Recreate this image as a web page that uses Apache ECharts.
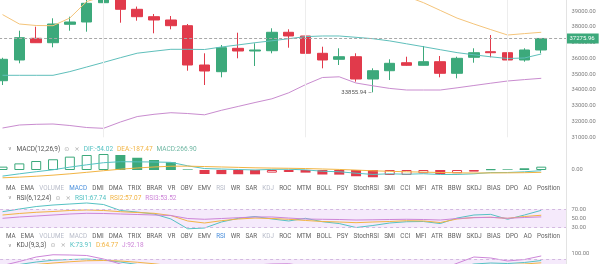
<!DOCTYPE html>
<html><head><meta charset="utf-8">
<script src="https://cdn.jsdelivr.net/npm/echarts@6/dist/echarts.min.js"></script>
<style>html,body{margin:0;padding:0;background:#fff}#c{width:600px;height:264px}</style>
</head><body><div id="c"></div>
<script>
// ---------- data ----------
const categories = ['03-01','03-02','03-03','03-04','03-05','03-06','03-07','03-08','03-09','03-10','03-11','03-12','03-13','03-14','03-15','03-16','03-17','03-18','03-19','03-20','03-21','03-22','03-23','03-24','03-25','03-26','03-27','03-28','03-29','03-30','03-31','04-01','04-02','04-03'];
// [open, close, low, high]
const candles = [
 [34593,35952,34320,36050],[35908,37324,35698,37768],[37286,37006,36990,38022],[37006,38194,36714,38556],
 [38175,38321,37768,38657],[38321,39508,37705,39800],[39546,39950,39254,40150],[39900,39127,38276,40050],
 [39127,38657,38403,39300],[38657,38448,37603,38829],[38448,38086,37857,38702],[38086,35590,35228,38194],
 [35590,35209,34320,36333],[35165,36689,34809,36860],[36650,36479,36016,37641],[36479,36543,35527,36968],
 [36498,37667,36333,37921],[37667,37432,36689,37857],[37432,36333,36181,37705],[36333,35908,35381,36752],
 [35952,36117,35590,36651],[36117,34701,34530,36333],[34701,35228,33855.94,35381],[35228,35698,34638,35952],
 [35736,35571,35540,36117],[35571,35800,35560,36797],[35800,35063,34809,36161],[35063,36016,34745,36117],
 [36079,36371,35736,36651],[36435,36371,36079,37495],[36371,35908,35381,36543],[35908,36543,35800,36651],
 [36543,37275.96,36333,37300]
];
const bollUp  = [38790,38194,38098,38086,38575,39622,39940,40138,40362,40472,40613,40664,40720,40752,40773,40803,40810,40695,40400,40300,40250,40200,40150,40080,39950,39549,39057,38568,38194,37838,37495,37584,37667];
const bollMid = [34936,34936,34936,34936,35171,35463,35755,36054,36339,36466,36587,36587,36574,36733,36867,37006,37127,37260,37393,37432,37432,37349,37260,37120,36936,36752,36562,36377,36238,36111,36003,36035,36289];
const bollLow = [31590,31780,31825,31844,31749,31621,31570,31970,32316,32460,32561,32510,32428,32714,32961,33209,33444,33825,34345,34796,34841,34447,34269,34104,34003,34003,34003,34142,34288,34434,34574,34663,34745];
const macdHist = [270,530,720,860,1070,1200,1280,1200,980,800,620,50,-320,-330,-340,-345,-210,-160,-210,-360,-370,-500,-580,-400,-390,-260,-320,-260,-130,60,55,140,266.90];
const macdDif = [-488,-305,-138,18,230,415,583,663,651,641,613,333,116,78,39,3,49,58,12,-99,-141,-256,-354,-304,-338,-299,-361,-357,-305,-204,-201,-144,-54.02];
const macdDea = [-623,-570,-498,-412,-305,-185,-57,63,161,241,303,308,276,243,209,175,154,138,117,81,44,-6,-64,-104,-143,-169,-201,-227,-240,-234,-228,-214,-187.47];
const rsi1 = [64.8,70.6,76,79.3,81.5,83.7,80.4,67.4,64,59.8,49,27.6,29.3,42.4,50.4,54.3,49,44.6,50.4,43,39,30.4,34.8,40.2,43,43.5,39,51,57.6,59,48.3,57.6,67.74];
const rsi2 = [57.6,60.9,63.5,65.2,67.4,68.5,67.4,64.8,63,61.3,56.5,44.6,40.2,45.2,48.9,51,50,48.3,45.7,43.5,42.4,40.9,42.4,43.5,45.2,44.6,41.3,48.9,52.2,52.6,50.4,54.3,57.07];
const rsi3 = [50.4,53.3,55.4,57.6,59.8,61.3,60.9,59.8,58.7,57.6,56.5,50,48.3,50,51.7,53.3,53.3,51,48.9,48.3,47.8,46.7,47.2,47.8,48.3,47.8,46.7,50,51.7,52.6,50.4,52.2,53.52];
const kdjK = [50,58,68,75,78,80,76,68,58,48,38,20,10,18,32,40,44,47,45,38,32,22,20,25,30,34,33,45,60,64,62,66,73.91];
const kdjD = [48,52,58,64,69,73,74,72,67,61,53,42,31,27,28,32,36,40,42,41,38,33,29,27,28,30,31,36,46,54,57,60,64.77];
const kdjJ = [54,70,88,97,96,94,80,60,40,22,8,-24,-32,0,40,56,60,61,51,32,20,0,2,21,34,42,37,63,88,84,72,78,92.18];
const lastPrice = 37275.96;
const lowPrice = 33855.94;
const lowIndex = 22;
const gridLineIdx = [6, 18, 30];
const indicatorNames = ['MA','EMA','VOLUME','MACD','DMI','DMA','TRIX','BRAR','VR','OBV','EMV','RSI','WR','SAR','KDJ','ROC','MTM','BOLL','PSY','StochRSI','SMI','CCI','MFI','ATR','BBW','SKDJ','BIAS','DPO','AO','Position'];

// ---------- styles ----------
const UP = '#3ca97b', DOWN = '#e13a4b';
const TEAL = '#55c2c3', ORANGE = '#f2b443', PURPLE = '#cd85d8';
const FONT = 'Roboto, "Liberation Sans", sans-serif';
const L = -5.9, R = 33.5;

const chart = echarts.init(document.getElementById('c'), null, {renderer: 'canvas'});

const grids = [
  {left: L, right: R, top: -4.45, height: 141.75},
  {left: L, right: R, top: 142, height: 40},
  {left: L, right: R, top: 195.5, height: 46},
  {left: L, right: R, top: 239, height: 50}
].map(g => Object.assign(g, {outerBoundsMode: 'none', containLabel: false}));

const xAxes = grids.map((g, i) => ({type: 'category', gridIndex: i, data: categories, boundaryGap: true, show: false}));
function yAx(i, min, max, interval, fmt) {
  return {type: 'value', gridIndex: i, position: 'right', min, max, interval,
    axisLine: {show: false}, axisTick: {show: false}, splitLine: {show: false},
    axisLabel: {show: true, fontSize: 5.8, color: '#7d7d7d', margin: 5, fontFamily: FONT, formatter: fmt}};
}
const yAxes = [
  yAx(0, 31000, 40000, 1000, v => v.toFixed(2)),
  yAx(1, -960, 2240, 960, v => v === 0 ? '0.00' : ''),
  yAx(2, 0, 100, 10, v => (v === 30 || v === 50 || v === 70) ? v.toFixed(2) : ''),
  yAx(3, -40, 160, 20, v => v === 100 ? '100.00' : '')
];

function ln(name, data, color, xi) {
  return {name, type: 'line', xAxisIndex: xi, yAxisIndex: xi, data, symbol: 'none', smooth: false,
    lineStyle: {color, width: 1}, itemStyle: {color}, silent: true, z: 3};
}

const macdBars = macdHist.map((v, i) => {
  const prev = i > 0 ? macdHist[i - 1] : -Infinity;
  const col = v > 0 ? UP : (v < 0 ? DOWN : '#888');
  const hollow = prev < v;
  return {value: v, itemStyle: hollow
    ? {color: 'rgba(255,255,255,0)', borderColor: col, borderWidth: 1}
    : {color: col, borderColor: col, borderWidth: 0}};
});

const series = [
  {type: 'line', xAxisIndex: 0, yAxisIndex: 0, data: [], silent: true, z: 1,
    markLine: {silent: true, symbol: ['none', 'none'], label: {show: false},
      lineStyle: {color: '#ededed', type: 'solid', width: 1},
      data: gridLineIdx.map(i => ({xAxis: categories[i]}))}},
  {type: 'candlestick', xAxisIndex: 0, yAxisIndex: 0, data: candles, barWidth: 11, z: 2,
    itemStyle: {color: UP, color0: DOWN, borderColor: UP, borderColor0: DOWN, borderWidth: 1},
    markLine: {silent: true, symbol: ['none', 'none'], z: 10,
      lineStyle: {color: '#a8a8a8', type: [3, 2], width: 1},
      label: {show: true, position: 'end', distance: 0, formatter: lastPrice.toFixed(2),
        backgroundColor: UP, color: '#fff', fontSize: 6, padding: [2, 4, 2, 3], fontFamily: FONT},
      data: [{yAxis: lastPrice}]},
    markPoint: {silent: true, symbol: 'circle', symbolSize: 0,
      label: {show: true, position: 'left', distance: 1, fontSize: 6, color: '#555', fontFamily: FONT,
        formatter: () => lowPrice.toFixed(2) + ' \u2013'},
      data: [{coord: [categories[lowIndex], lowPrice]}]}},
  ln('UP', bollUp, '#f4c47a', 0),
  ln('MID', bollMid, '#5fbfbb', 0),
  ln('DN', bollLow, '#c98ccf', 0),
  {type: 'bar', xAxisIndex: 1, yAxisIndex: 1, data: macdBars, barWidth: 10, silent: true, z: 2},
  ln('DIF', macdDif, TEAL, 1),
  ln('DEA', macdDea, ORANGE, 1),
  Object.assign(ln('RSI1', rsi1, TEAL, 2), {
    markArea: {silent: true, itemStyle: {color: '#f5eafb'}, data: [[{yAxis: 30}, {yAxis: 70}]]},
    markLine: {silent: true, symbol: ['none', 'none'], label: {show: false},
      lineStyle: {color: '#d3b9e0', type: [3, 3], width: 1}, data: [{yAxis: 70}, {yAxis: 30}]}}),
  ln('RSI2', rsi2, ORANGE, 2),
  ln('RSI3', rsi3, PURPLE, 2),
  Object.assign(ln('K', kdjK, TEAL, 3), {
    markArea: {silent: true, itemStyle: {color: '#f5eafb'}, data: [[{yAxis: 20}, {yAxis: 80}]]},
    markLine: {silent: true, symbol: ['none', 'none'], label: {show: false},
      lineStyle: {color: '#d3b9e0', type: [3, 3], width: 1}, data: [{yAxis: 80}, {yAxis: 20}]}}),
  ln('D', kdjD, ORANGE, 3),
  ln('J', kdjJ, PURPLE, 3)
];

// ---------- text layout (measured) ----------
const mctx = document.createElement('canvas').getContext('2d');
function tw(text, size) { mctx.font = size + 'px ' + FONT; return mctx.measureText(text).width; }

const graphic = [{type: 'line', silent: true, shape: {x1: 566.5, y1: 0, x2: 566.5, y2: 264},
  style: {stroke: '#e3e3e3', lineWidth: 1}, z: 50}];

function nameRow(y, active, light) {
  const size = 6.3;
  const widths = indicatorNames.map(n => tw(n, size));
  const total = widths.reduce((a, b) => a + b, 0);
  const x0 = 6, x1 = 560;
  const gap = (x1 - x0 - total) / (indicatorNames.length - 1);
  let x = x0;
  indicatorNames.forEach((n, i) => {
    const color = n === active ? '#4a8fdc' : (light.includes(n) ? '#b8bcc9' : '#616161');
    graphic.push({type: 'text', silent: true, x, y, z: 60,
      style: {text: n, fill: color, font: size + 'px ' + FONT, textVerticalAlign: 'middle', textAlign: 'left'}});
    x += widths[i] + gap;
  });
}
nameRow(188, 'MACD', ['VOLUME', 'RSI', 'KDJ']);
nameRow(236, 'RSI', ['VOLUME', 'MACD', 'KDJ']);

function header(y, name, vals) {
  const size = 6.5;
  graphic.push({type: 'text', silent: true, x: 8, y, z: 60,
    style: {text: '\u2228', fill: '#8a8a8a', font: '5px "DejaVu Sans"', textVerticalAlign: 'middle'}});
  let x = 16.5;
  const segs = [[name, '#555', size, 4], ['\u2299', '#aaa', 6, 5], ['\u00d7', '#aaa', 6.5, 4]].concat(vals.map(v => [v[0], v[1], size, 4]));
  segs.forEach(s => {
    graphic.push({type: 'text', silent: true, x, y, z: 60,
      style: {text: s[0], fill: s[1], font: s[2] + 'px ' + (s[0].length === 1 ? '"DejaVu Sans"' : FONT), textVerticalAlign: 'middle'}});
    mctx.font = s[2] + 'px ' + (s[0].length === 1 ? '"DejaVu Sans"' : FONT);
    x += mctx.measureText(s[0]).width + s[3];
  });
}
const last = a => a[a.length - 1];
header(149, 'MACD(12,26,9)', [
  ['DIF:' + last(macdDif).toFixed(2), TEAL], ['DEA:' + last(macdDea).toFixed(2), ORANGE], ['MACD:' + last(macdHist).toFixed(2), '#6fb7a3']]);
header(198, 'RSI(6,12,24)', [
  ['RSI1:' + last(rsi1).toFixed(2), TEAL], ['RSI2:' + last(rsi2).toFixed(2), ORANGE], ['RSI3:' + last(rsi3).toFixed(2), PURPLE]]);
header(245.5, 'KDJ(9,3,3)', [
  ['K:' + last(kdjK).toFixed(2), TEAL], ['D:' + last(kdjD).toFixed(2), ORANGE], ['J:' + last(kdjJ).toFixed(2), PURPLE]]);

chart.setOption({
  animation: false,
  backgroundColor: '#ffffff',
  textStyle: {fontFamily: FONT},
  grid: grids,
  xAxis: xAxes,
  yAxis: yAxes,
  series,
  graphic
});
</script></body></html>
